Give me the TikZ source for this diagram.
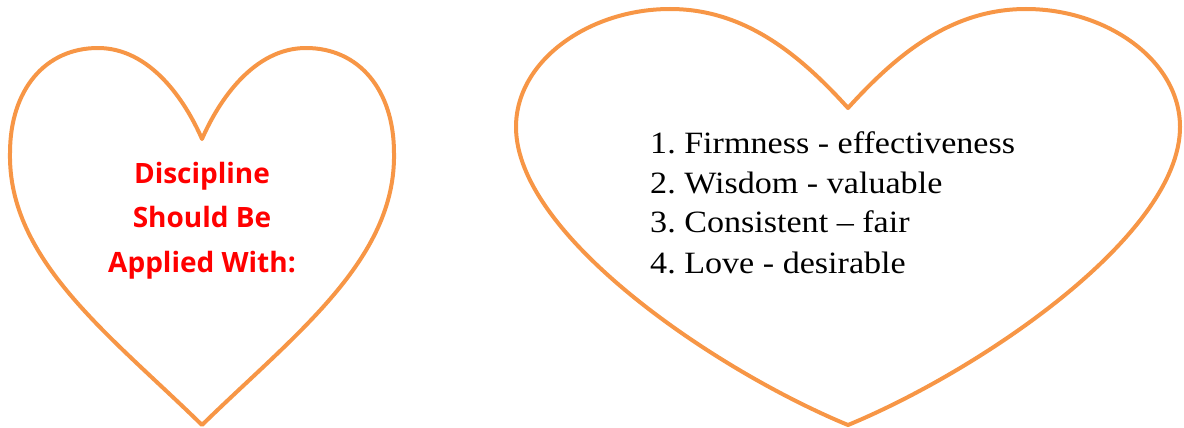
\documentclass[tikz,border=0pt]{standalone}
\usepackage{fontspec}
\newfontfamily\listfont[FakeStretch=1.1,Ligatures=TeX]{Liberation Serif}
\newfontfamily\titlefont{Open Sans}
\definecolor{heartorange}{HTML}{F79646}
\definecolor{titlered}{HTML}{FF0000}
\frenchspacing
\tikzset{
  heartline/.style={draw=heartorange, line width=4pt, line join=round},
  titletext/.style={inner sep=0pt, anchor=base, text=titlered, font=\titlefont\bfseries\fontsize{28}{44.5}\selectfont},
  listtext/.style={inner sep=0pt, anchor=base west, text=black, font=\listfont\fontsize{31}{40}\selectfont}
}
\begin{document}
\begin{tikzpicture}[x=1pt,y=-1pt]
\useasboundingbox (0,0) rectangle (1184,428);
% left heart
\draw[heartline] (202,139) .. controls (185,100) and (150,48) .. (98,48)
  .. controls (45,48) and (10,90) .. (10,153)
  .. controls (8,260) and (110,335) .. (202,425)
  .. controls (294,335) and (396,260) .. (394,153)
  .. controls (394,90) and (359,48) .. (306,48)
  .. controls (254,48) and (219,100) .. cycle;
% right heart
\draw[heartline] (848,108) .. controls (800,55) and (745,9) .. (670,9)
  .. controls (590,9) and (516,60) .. (516,127)
  .. controls (516,235) and (715,370) .. (848,425)
  .. controls (981,370) and (1180,235) .. (1180,127)
  .. controls (1180,60) and (1106,9) .. (1026,9)
  .. controls (951,9) and (896,55) .. cycle;
\node[titletext] (title) at (202,183) {\begin{tabular}[t]{@{}c@{}}Discipline\\Should Be\\Applied With:\end{tabular}};
\node[listtext] (list) at (650,153) {\begin{tabular}[t]{@{}l@{}}1. Firmness - effectiveness\\2. Wisdom - valuable\\3. Consistent – fair\\4. Love - desirable\end{tabular}};
\end{tikzpicture}
\end{document}
